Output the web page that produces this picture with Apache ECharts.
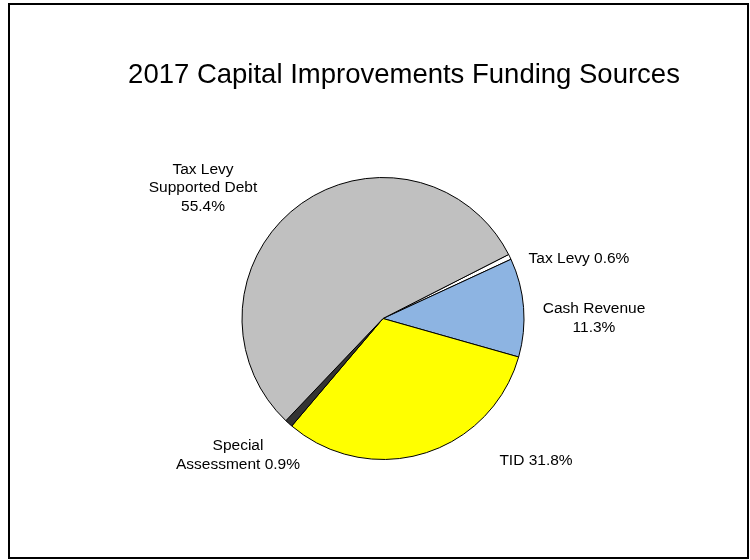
<!DOCTYPE html>
<html>
<head>
<meta charset="utf-8">
<script src="https://cdn.jsdelivr.net/npm/echarts@6/dist/echarts.min.js"></script>
<style>
  html, body { margin: 0; padding: 0; background: #fff; }
  #chart { width: 750px; height: 560px; }
</style>
</head>
<body>
<div id="chart"></div>
<script>
// Funding sources, in drawing order (clockwise)
const sourceNames = ['Tax Levy', 'Cash Revenue', 'TID', 'Special\nAssessment', 'Tax Levy\nSupported Debt'];
const sharePercent = [0.6, 11.3, 31.8, 0.9, 55.4];
// how the percentage is joined to the name in each label
const valueJoin = [' ', '\n', ' ', ' ', '\n'];
const sliceColors = ['#ffffff', '#8db4e2', '#ffff00', '#333333', '#c0c0c0'];
// label anchor points (centre of each text block)
const labelAnchors = [[579, 259], [594, 318], [536, 461], [238, 455], [203, 188]];

const chart = echarts.init(document.getElementById('chart'), null, { renderer: 'canvas' });

const pieData = sourceNames.map((n, i) => ({
  name: n,
  value: sharePercent[i],
  itemStyle: { color: sliceColors[i] }
}));

chart.setOption({
  animation: false,
  backgroundColor: '#ffffff',
  title: {
    text: '2017 Capital Improvements Funding Sources',
    left: 399,
    top: 56,
    textAlign: 'center',
    textStyle: {
      fontFamily: 'Liberation Sans',
      fontSize: 27.5,
      fontWeight: 'normal',
      color: '#000'
    }
  },
  graphic: [{
    type: 'rect',
    shape: { x: 9, y: 4, width: 739, height: 554 },
    style: { fill: 'none', stroke: '#000', lineWidth: 2 },
    silent: true
  }],
  series: [{
    type: 'pie',
    center: [383, 318.5],
    radius: [0, 141],
    startAngle: 27,
    clockwise: true,
    avoidLabelOverlap: false,
    minAngle: 0,
    itemStyle: { borderColor: '#000', borderWidth: 1 },
    emphasis: { disabled: true },
    label: {
      show: true,
      position: 'outside',
      fontFamily: 'Liberation Sans',
      fontSize: 15.5,
      lineHeight: 18.5,
      color: '#000',
      align: 'center',
      formatter: p => p.name + valueJoin[p.dataIndex] + p.value.toFixed(1) + '%'
    },
    labelLine: { show: false },
    labelLayout: p => ({
      x: labelAnchors[p.dataIndex][0],
      y: labelAnchors[p.dataIndex][1],
      align: 'center',
      verticalAlign: 'middle'
    }),
    data: pieData
  }]
});
</script>
</body>
</html>
